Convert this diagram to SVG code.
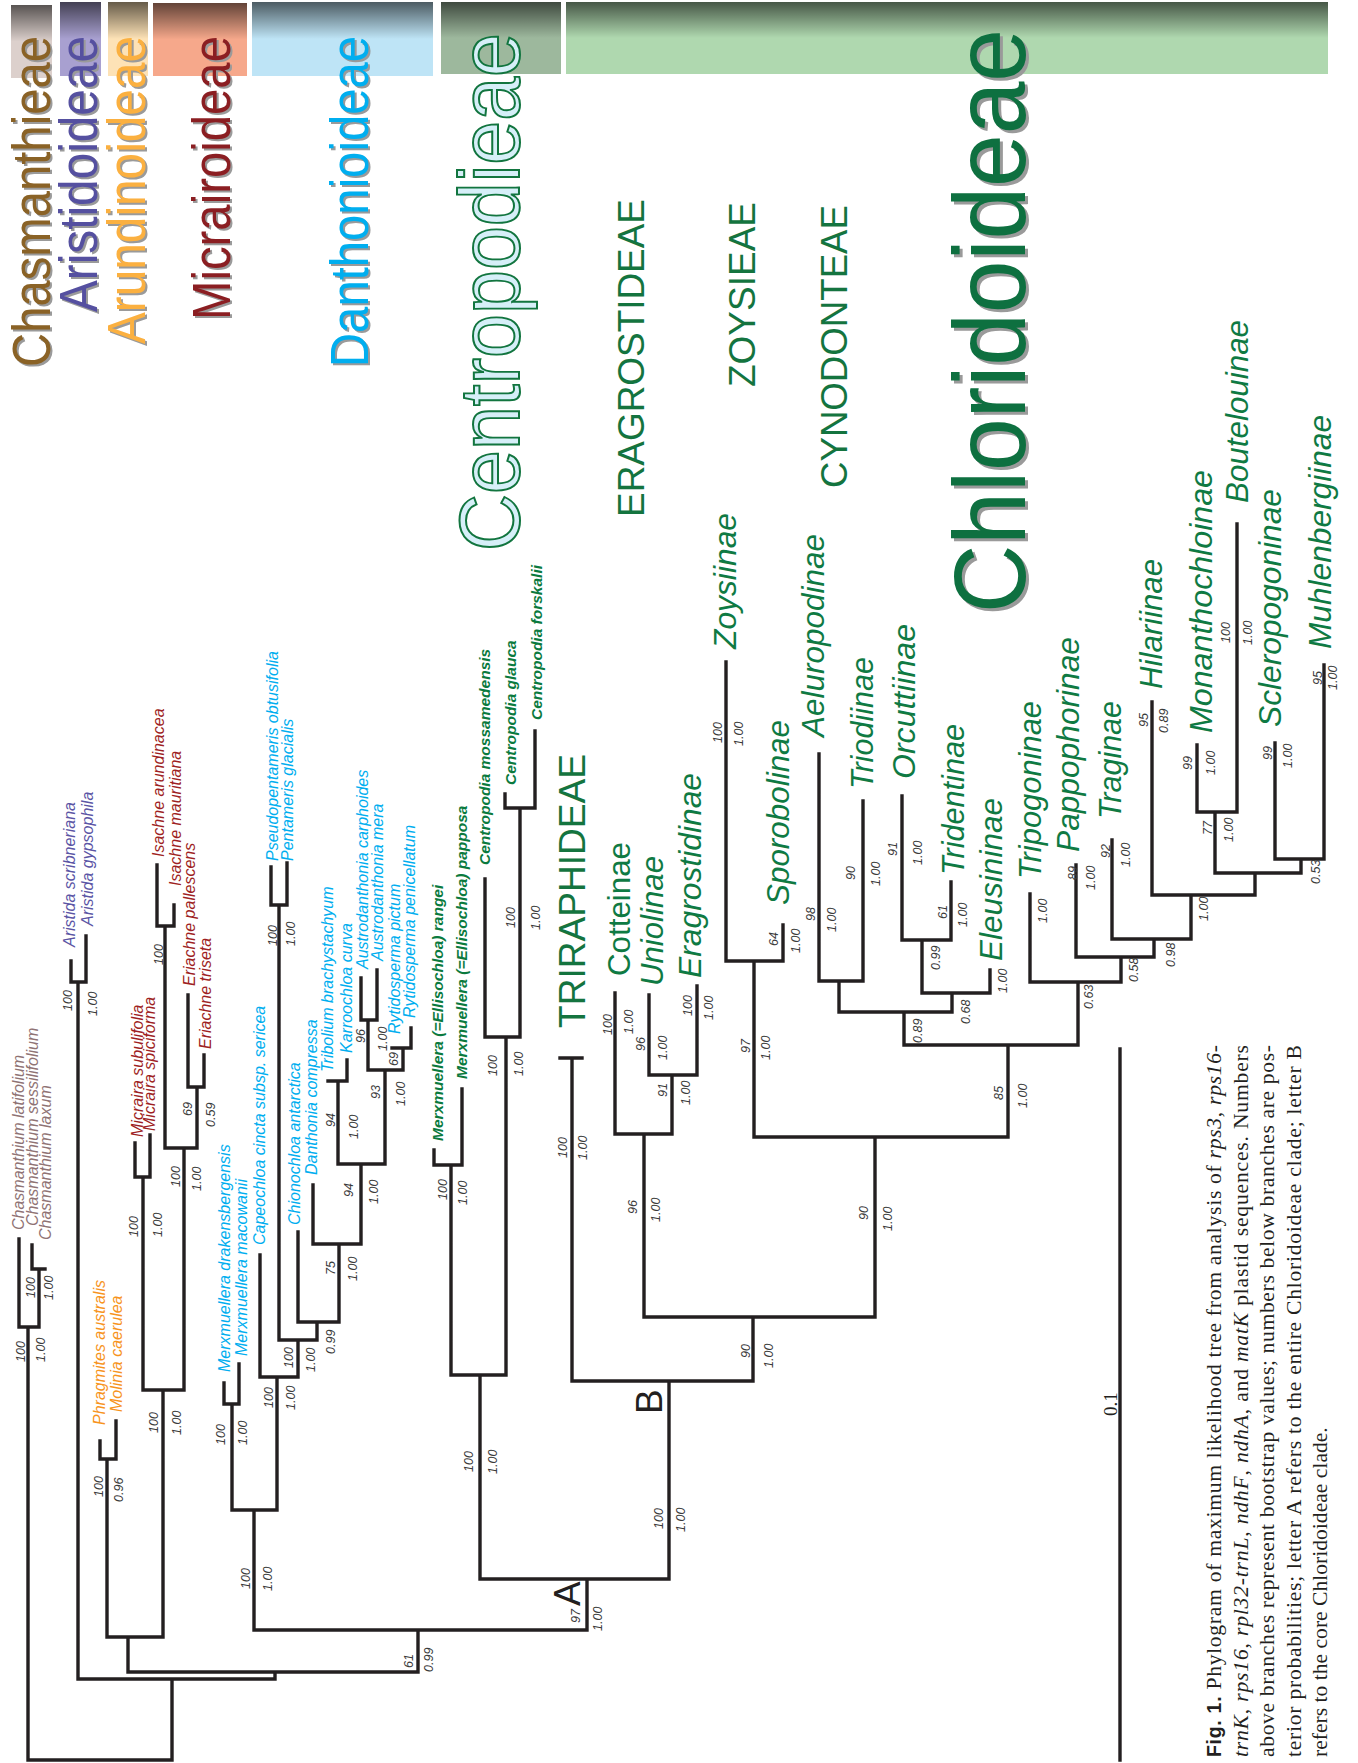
<svg xmlns="http://www.w3.org/2000/svg" width="1358" height="1763" viewBox="0 0 1358 1763">
<defs>
<linearGradient id="shade" x1="0" y1="0" x2="0" y2="1">
<stop offset="0" stop-color="#000" stop-opacity="0.6"/>
<stop offset="0.5" stop-color="#000" stop-opacity="0"/>
</linearGradient>
<style>
.br{stroke:#231f20;stroke-width:3.4;fill:none;stroke-linecap:square}
.n{font-family:"Liberation Sans",Arial,sans-serif;font-style:italic;font-size:12.5px;fill:#3a3a3a}
.sp{font-family:"Liberation Sans",Arial,sans-serif;font-style:italic;font-size:16px}
.cb{font-family:"Liberation Sans",Arial,sans-serif;font-style:italic;font-weight:bold;font-size:15.5px;fill:#0b7a3e}
.st{font-family:"Liberation Sans",Arial,sans-serif;font-style:italic;font-size:32px;fill:#0f7a43}
.tr{font-family:"Liberation Sans",Arial,sans-serif;font-size:37px;fill:#14743f}
.hd{font-family:"Liberation Sans",Arial,sans-serif;font-size:53px}
.sh{fill:#9a9a9a}
.cap{font-family:"Liberation Serif","Times New Roman",serif;font-size:21.6px;fill:#231f20}
.it{font-style:italic}
.chas{fill:#8f7374}.aris{fill:#5b55a5}.arun{fill:#f7941d}.micr{fill:#9e1f24}.dant{fill:#00aeef}
</style>
</defs>

<g id="header-bars">
<rect x="11" y="5" width="41" height="73" fill="#dcd0cc"/><rect x="11" y="5" width="41" height="73" fill="url(#shade)"/>
<rect x="60" y="2" width="41" height="74" fill="#a8a0d0"/><rect x="60" y="2" width="41" height="74" fill="url(#shade)"/>
<rect x="108" y="2" width="40" height="74" fill="#fde2b6"/><rect x="108" y="2" width="40" height="74" fill="url(#shade)"/>
<rect x="153" y="3" width="94" height="73" fill="#f6a88b"/><rect x="153" y="3" width="94" height="73" fill="url(#shade)"/>
<rect x="252" y="2" width="181" height="74" fill="#bee4f6"/><rect x="252" y="2" width="181" height="74" fill="url(#shade)"/>
<rect x="441" y="2" width="120" height="72" fill="#9db89d"/><rect x="441" y="2" width="120" height="72" fill="url(#shade)"/>
<rect x="566" y="2" width="762" height="72" fill="#afd8af"/><rect x="566" y="2" width="762" height="72" fill="url(#shade)"/>
</g>

<g id="header-labels">
<text class="hd sh" transform="translate(52 369) rotate(-90)" textLength="331" lengthAdjust="spacingAndGlyphs">Chasmanthieae</text>
<text class="hd" fill="#8a6226" transform="translate(50 367) rotate(-90)" textLength="331" lengthAdjust="spacingAndGlyphs">Chasmanthieae</text>
<text class="hd sh" transform="translate(99 314) rotate(-90)" textLength="276" lengthAdjust="spacingAndGlyphs">Aristidoideae</text>
<text class="hd" fill="#5550a0" transform="translate(97 312) rotate(-90)" textLength="276" lengthAdjust="spacingAndGlyphs">Aristidoideae</text>
<text class="hd sh" transform="translate(147 346) rotate(-90)" textLength="308" lengthAdjust="spacingAndGlyphs">Arundinoideae</text>
<text class="hd" fill="#fbb040" transform="translate(145 344) rotate(-90)" textLength="308" lengthAdjust="spacingAndGlyphs">Arundinoideae</text>
<text class="hd sh" transform="translate(232 322) rotate(-90)" textLength="284" lengthAdjust="spacingAndGlyphs">Micrairoideae</text>
<text class="hd" fill="#8b1e22" transform="translate(230 320) rotate(-90)" textLength="284" lengthAdjust="spacingAndGlyphs">Micrairoideae</text>
<text class="hd sh" transform="translate(370 369) rotate(-90)" textLength="331" lengthAdjust="spacingAndGlyphs">Danthonioideae</text>
<text class="hd" fill="#00aeef" transform="translate(368 367) rotate(-90)" textLength="331" lengthAdjust="spacingAndGlyphs">Danthonioideae</text>
<text class="hd" style="font-size:86px" fill="#d6eff8" stroke="#12753f" stroke-width="2" transform="translate(519 551) rotate(-90)" textLength="518" lengthAdjust="spacingAndGlyphs">Centropodieae</text>
<text class="hd sh" style="font-size:102px" transform="translate(1028 616) rotate(-90)" textLength="584" lengthAdjust="spacingAndGlyphs">Chloridoideae</text>
<text class="hd" style="font-size:102px" fill="#0e7040" transform="translate(1025 613) rotate(-90)" textLength="584" lengthAdjust="spacingAndGlyphs">Chloridoideae</text>
</g>

<g id="tribe-labels">
<text class="tr" transform="translate(644 517) rotate(-90)" textLength="318" lengthAdjust="spacingAndGlyphs">ERAGROSTIDEAE</text>
<text class="tr" transform="translate(755 387) rotate(-90)" textLength="185" lengthAdjust="spacingAndGlyphs">ZOYSIEAE</text>
<text class="tr" transform="translate(847 488) rotate(-90)" textLength="283" lengthAdjust="spacingAndGlyphs">CYNODONTEAE</text>
<text class="tr" transform="translate(585 1028) rotate(-90)" textLength="274" lengthAdjust="spacingAndGlyphs">TRIRAPHIDEAE</text>
</g>

<g id="connectors">
<path class="br" d="M28 1760H172 M28 1760V1327 M19 1327H39 M19 1327V1239 M39 1327V1269 M32 1269H45 M32 1269V1245
M172 1760V1679 M78 1679H275 M78 1679V982 M71 982H86 M71 982V961 M86 982V936
M275 1679V1672 M128 1672H418 M128 1672V1637 M107 1637H163
M107 1637V1459 M100 1459H116 M100 1459V1441 M116 1459V1421
M163 1637V1390 M143 1390H184 M143 1390V1177 M135 1177H150 M135 1177V1143 M150 1177V1135
M184 1390V1148 M165 1148H197 M165 1148V926 M157 926H174 M157 926V865 M174 926V905
M197 1148V1087 M188 1087H204 M188 1087V995 M204 1087V1055
M418 1672V1630 M254 1630H587
M254 1630V1510 M232 1510H277 M232 1510V1404 M224 1404H239 M224 1404V1383 M239 1404V1364
M277 1510V1377 M260 1377H298 M260 1377V1255 M298 1377V1340 M279 1340H317
M279 1340V905 M271 905H287 M271 905V867 M287 905V863
M317 1340V1322 M298 1322H339 M298 1322V1232 M339 1322V1244 M313 1244H361 M313 1244V1185
M361 1244V1164 M338 1164H385 M338 1164V1081 M328 1081H347 M347 1081V1060
M385 1164V1070 M368 1070H403 M368 1070V1020 M361 1020H377 M361 1020V978 M377 1020V970
M403 1070V1048 M392 1048H411 M411 1048V1028
M587 1630V1579 M480 1579H669
M480 1579V1375 M451 1375H506 M451 1375V1165 M434 1165H462 M434 1165V1150 M462 1165V1089
M506 1375V1037 M485 1037H520 M485 1037V879 M520 1037V808 M505 808H535 M505 808V794 M535 808V731
M669 1579V1381 M572 1381H753 M572 1381V1058 M560 1058H582
M753 1381V1317 M644 1317H875 M644 1317V1134 M615 1134H672 M615 1134V993
M672 1134V1075 M649 1075H697 M649 1075V995 M697 1075V986
M875 1317V1137 M754 1137H1008 M754 1137V961 M726 961H783 M726 961V662 M783 961V925
M1008 1137V1045 M904 1045H1078 M904 1045V1012 M839 1012H952
M839 1012V981 M819 981H863 M819 981V754 M863 981V801
M952 1012V993 M922 993H990 M922 993V940 M902 940H951 M902 940V796 M951 940V882 M990 993V970
M1078 1045V982 M1030 982H1121 M1030 982V894 M1121 982V957 M1076 957H1154 M1076 957V865
M1154 957V939 M1112 939H1191 M1112 939V840 M1191 939V895 M1152 895H1255 M1152 895V702
M1255 895V873 M1215 873H1301 M1215 873V812 M1197 812H1237 M1197 812V745 M1237 812V524
M1301 873V859 M1275 859H1324 M1275 859V743 M1324 859V665"/>
</g>

<g id="scale-bar">
<path class="br" d="M1120 1049V1760"/>
<text class="cap" style="font-size:19px" transform="translate(1117 1416) rotate(-90)">0.1</text>
</g>

<g id="taxa">
<text class="sp chas" transform="translate(24 1230) rotate(-90)">Chasmanthium latifolium</text>
<text class="sp chas" transform="translate(38 1226) rotate(-90)">Chasmanthium sessilifolium</text>
<text class="sp chas" transform="translate(51 1240) rotate(-90)">Chasmanthium laxum</text>
<text class="sp aris" transform="translate(75 947) rotate(-90)">Aristida scribneriana</text>
<text class="sp aris" transform="translate(93 926) rotate(-90)">Aristida gypsophila</text>
<text class="sp arun" transform="translate(105 1425) rotate(-90)">Phragmites australis</text>
<text class="sp arun" transform="translate(122 1412) rotate(-90)">Molinia caerulea</text>
<text class="sp micr" transform="translate(143 1137) rotate(-90)">Micraira subulifolia</text>
<text class="sp micr" transform="translate(155 1131) rotate(-90)">Micraira spiciforma</text>
<text class="sp micr" transform="translate(164 857) rotate(-90)">Isachne arundinacea</text>
<text class="sp micr" transform="translate(181 886) rotate(-90)">Isachne mauritiana</text>
<text class="sp micr" transform="translate(195 986) rotate(-90)">Eriachne pallescens</text>
<text class="sp micr" transform="translate(211 1049) rotate(-90)">Eriachne triseta</text>
<text class="sp dant" transform="translate(230 1372) rotate(-90)">Merxmuellera drakensbergensis</text>
<text class="sp dant" transform="translate(247 1356) rotate(-90)">Merxmuellera macowanii</text>
<text class="sp dant" transform="translate(265 1245) rotate(-90)">Capeochloa cincta subsp. sericea</text>
<text class="sp dant" transform="translate(278 861) rotate(-90)">Pseudopentameris obtusifolia</text>
<text class="sp dant" transform="translate(293 861) rotate(-90)">Pentameris glacialis</text>
<text class="sp dant" transform="translate(300 1225) rotate(-90)">Chionochloa antarctica</text>
<text class="sp dant" transform="translate(317 1175) rotate(-90)">Danthonia compressa</text>
<text class="sp dant" transform="translate(333 1072) rotate(-90)">Tribolium brachystachyum</text>
<text class="sp dant" transform="translate(352 1053) rotate(-90)">Karroochloa curva</text>
<text class="sp dant" transform="translate(368 969) rotate(-90)">Austrodanthonia carphoides</text>
<text class="sp dant" transform="translate(383 961) rotate(-90)">Austrodanthonia mera</text>
<text class="sp dant" transform="translate(400 1034) rotate(-90)">Rytidosperma pictum</text>
<text class="sp dant" transform="translate(415 1018) rotate(-90)">Rytidosperma penicellatum</text>
<text class="cb" transform="translate(443 1141) rotate(-90)">Merxmuellera (=Ellisochloa) rangei</text>
<text class="cb" transform="translate(467 1079) rotate(-90)">Merxmuellera (=Ellisochloa) papposa</text>
<text class="cb" transform="translate(490 865) rotate(-90)">Centropodia mossamedensis</text>
<text class="cb" transform="translate(516 785) rotate(-90)">Centropodia glauca</text>
<text class="cb" transform="translate(542 720) rotate(-90)">Centropodia forskalii</text>
</g>

<g id="subtribes">
<text class="st" style="font-style:normal" transform="translate(630 976) rotate(-90)" textLength="134" lengthAdjust="spacingAndGlyphs">Cotteinae</text>
<text class="st" transform="translate(663 986) rotate(-90)" textLength="130" lengthAdjust="spacingAndGlyphs">Uniolinae</text>
<text class="st" transform="translate(701 978) rotate(-90)" textLength="205" lengthAdjust="spacingAndGlyphs">Eragrostidinae</text>
<text class="st" transform="translate(736 649) rotate(-90)" textLength="136" lengthAdjust="spacingAndGlyphs">Zoysiinae</text>
<text class="st" transform="translate(789 905) rotate(-90)" textLength="185" lengthAdjust="spacingAndGlyphs">Sporobolinae</text>
<text class="st" transform="translate(824 737) rotate(-90)" textLength="203" lengthAdjust="spacingAndGlyphs">Aeluropodinae</text>
<text class="st" transform="translate(873 789) rotate(-90)" textLength="132" lengthAdjust="spacingAndGlyphs">Triodiinae</text>
<text class="st" transform="translate(915 779) rotate(-90)" textLength="155" lengthAdjust="spacingAndGlyphs">Orcuttiinae</text>
<text class="st" transform="translate(964 875) rotate(-90)" textLength="151" lengthAdjust="spacingAndGlyphs">Tridentinae</text>
<text class="st" transform="translate(1002 961) rotate(-90)" textLength="163" lengthAdjust="spacingAndGlyphs">Eleusininae</text>
<text class="st" transform="translate(1041 879) rotate(-90)" textLength="178" lengthAdjust="spacingAndGlyphs">Tripogoninae</text>
<text class="st" transform="translate(1079 852) rotate(-90)" textLength="215" lengthAdjust="spacingAndGlyphs">Pappophorinae</text>
<text class="st" transform="translate(1121 819) rotate(-90)" textLength="118" lengthAdjust="spacingAndGlyphs">Traginae</text>
<text class="st" transform="translate(1162 689) rotate(-90)" textLength="130" lengthAdjust="spacingAndGlyphs">Hilariinae</text>
<text class="st" transform="translate(1212 733) rotate(-90)" textLength="263" lengthAdjust="spacingAndGlyphs">Monanthochloinae</text>
<text class="st" transform="translate(1248 503) rotate(-90)" textLength="183" lengthAdjust="spacingAndGlyphs">Boutelouinae</text>
<text class="st" transform="translate(1281 727) rotate(-90)" textLength="238" lengthAdjust="spacingAndGlyphs">Scleropogoninae</text>
<text class="st" transform="translate(1331 649) rotate(-90)" textLength="234" lengthAdjust="spacingAndGlyphs">Muhlenbergiinae</text>
</g>

<g id="clade-letters">
<text style="font-family:'Liberation Sans',Arial,sans-serif;font-size:37px;fill:#231f20" transform="translate(580 1606) rotate(-90)">A</text>
<text style="font-family:'Liberation Sans',Arial,sans-serif;font-size:37px;fill:#231f20" transform="translate(662 1414) rotate(-90)">B</text>
</g>

<g id="support-values">
<text class="n" transform="translate(25 1362) rotate(-90)">100</text>
<text class="n" transform="translate(45 1362) rotate(-90)">1.00</text>
<text class="n" transform="translate(35 1298) rotate(-90)">100</text>
<text class="n" transform="translate(53 1300) rotate(-90)">1.00</text>
<text class="n" transform="translate(72 1011) rotate(-90)">100</text>
<text class="n" transform="translate(97 1016) rotate(-90)">1.00</text>
<text class="n" transform="translate(103 1497) rotate(-90)">100</text>
<text class="n" transform="translate(123 1502) rotate(-90)">0.96</text>
<text class="n" transform="translate(158 1433) rotate(-90)">100</text>
<text class="n" transform="translate(181 1435) rotate(-90)">1.00</text>
<text class="n" transform="translate(138 1237) rotate(-90)">100</text>
<text class="n" transform="translate(162 1237) rotate(-90)">1.00</text>
<text class="n" transform="translate(180 1187) rotate(-90)">100</text>
<text class="n" transform="translate(201 1191) rotate(-90)">1.00</text>
<text class="n" transform="translate(163 965) rotate(-90)">100</text>
<text class="n" transform="translate(192 1116) rotate(-90)">69</text>
<text class="n" transform="translate(215 1127) rotate(-90)">0.59</text>
<text class="n" transform="translate(413 1668) rotate(-90)">61</text>
<text class="n" transform="translate(433 1672) rotate(-90)">0.99</text>
<text class="n" transform="translate(250 1589) rotate(-90)">100</text>
<text class="n" transform="translate(272 1591) rotate(-90)">1.00</text>
<text class="n" transform="translate(225 1445) rotate(-90)">100</text>
<text class="n" transform="translate(247 1445) rotate(-90)">1.00</text>
<text class="n" transform="translate(273 1408) rotate(-90)">100</text>
<text class="n" transform="translate(295 1410) rotate(-90)">1.00</text>
<text class="n" transform="translate(293 1368) rotate(-90)">100</text>
<text class="n" transform="translate(315 1372) rotate(-90)">1.00</text>
<text class="n" transform="translate(277 946) rotate(-90)">100</text>
<text class="n" transform="translate(295 946) rotate(-90)">1.00</text>
<text class="n" transform="translate(335 1354) rotate(-90)">0.99</text>
<text class="n" transform="translate(335 1275) rotate(-90)">75</text>
<text class="n" transform="translate(357 1281) rotate(-90)">1.00</text>
<text class="n" transform="translate(353 1197) rotate(-90)">94</text>
<text class="n" transform="translate(378 1204) rotate(-90)">1.00</text>
<text class="n" transform="translate(335 1127) rotate(-90)">94</text>
<text class="n" transform="translate(358 1139) rotate(-90)">1.00</text>
<text class="n" transform="translate(380 1099) rotate(-90)">93</text>
<text class="n" transform="translate(405 1106) rotate(-90)">1.00</text>
<text class="n" transform="translate(365 1043) rotate(-90)">96</text>
<text class="n" transform="translate(387 1051) rotate(-90)">1.00</text>
<text class="n" transform="translate(398 1066) rotate(-90)">69</text>
<text class="n" transform="translate(580 1623) rotate(-90)">97</text>
<text class="n" transform="translate(602 1631) rotate(-90)">1.00</text>
<text class="n" transform="translate(473 1472) rotate(-90)">100</text>
<text class="n" transform="translate(497 1474) rotate(-90)">1.00</text>
<text class="n" transform="translate(447 1200) rotate(-90)">100</text>
<text class="n" transform="translate(467 1205) rotate(-90)">1.00</text>
<text class="n" transform="translate(497 1076) rotate(-90)">100</text>
<text class="n" transform="translate(523 1076) rotate(-90)">1.00</text>
<text class="n" transform="translate(515 928) rotate(-90)">100</text>
<text class="n" transform="translate(540 930) rotate(-90)">1.00</text>
<text class="n" transform="translate(663 1529) rotate(-90)">100</text>
<text class="n" transform="translate(685 1532) rotate(-90)">1.00</text>
<text class="n" transform="translate(567 1158) rotate(-90)">100</text>
<text class="n" transform="translate(587 1160) rotate(-90)">1.00</text>
<text class="n" transform="translate(750 1358) rotate(-90)">90</text>
<text class="n" transform="translate(773 1368) rotate(-90)">1.00</text>
<text class="n" transform="translate(637 1214) rotate(-90)">96</text>
<text class="n" transform="translate(660 1222) rotate(-90)">1.00</text>
<text class="n" transform="translate(612 1035) rotate(-90)">100</text>
<text class="n" transform="translate(633 1034) rotate(-90)">1.00</text>
<text class="n" transform="translate(667 1097) rotate(-90)">91</text>
<text class="n" transform="translate(690 1105) rotate(-90)">1.00</text>
<text class="n" transform="translate(645 1051) rotate(-90)">96</text>
<text class="n" transform="translate(667 1060) rotate(-90)">1.00</text>
<text class="n" transform="translate(692 1016) rotate(-90)">100</text>
<text class="n" transform="translate(713 1020) rotate(-90)">1.00</text>
<text class="n" transform="translate(868 1220) rotate(-90)">90</text>
<text class="n" transform="translate(892 1231) rotate(-90)">1.00</text>
<text class="n" transform="translate(750 1053) rotate(-90)">97</text>
<text class="n" transform="translate(770 1060) rotate(-90)">1.00</text>
<text class="n" transform="translate(722 743) rotate(-90)">100</text>
<text class="n" transform="translate(743 746) rotate(-90)">1.00</text>
<text class="n" transform="translate(778 946) rotate(-90)">64</text>
<text class="n" transform="translate(800 953) rotate(-90)">1.00</text>
<text class="n" transform="translate(1003 1100) rotate(-90)">85</text>
<text class="n" transform="translate(1027 1108) rotate(-90)">1.00</text>
<text class="n" transform="translate(922 1043) rotate(-90)">0.89</text>
<text class="n" transform="translate(815 921) rotate(-90)">98</text>
<text class="n" transform="translate(836 932) rotate(-90)">1.00</text>
<text class="n" transform="translate(855 880) rotate(-90)">90</text>
<text class="n" transform="translate(880 886) rotate(-90)">1.00</text>
<text class="n" transform="translate(970 1024) rotate(-90)">0.68</text>
<text class="n" transform="translate(940 970) rotate(-90)">0.99</text>
<text class="n" transform="translate(897 856) rotate(-90)">91</text>
<text class="n" transform="translate(922 865) rotate(-90)">1.00</text>
<text class="n" transform="translate(947 919) rotate(-90)">61</text>
<text class="n" transform="translate(967 927) rotate(-90)">1.00</text>
<text class="n" transform="translate(1007 993) rotate(-90)">1.00</text>
<text class="n" transform="translate(1093 1009) rotate(-90)">0.63</text>
<text class="n" transform="translate(1047 923) rotate(-90)">1.00</text>
<text class="n" transform="translate(1138 982) rotate(-90)">0.58</text>
<text class="n" transform="translate(1077 880) rotate(-90)">89</text>
<text class="n" transform="translate(1095 890) rotate(-90)">1.00</text>
<text class="n" transform="translate(1175 967) rotate(-90)">0.98</text>
<text class="n" transform="translate(1110 858) rotate(-90)">92</text>
<text class="n" transform="translate(1130 867) rotate(-90)">1.00</text>
<text class="n" transform="translate(1208 921) rotate(-90)">1.00</text>
<text class="n" transform="translate(1148 727) rotate(-90)">95</text>
<text class="n" transform="translate(1168 733) rotate(-90)">0.89</text>
<text class="n" transform="translate(1212 835) rotate(-90)">77</text>
<text class="n" transform="translate(1233 842) rotate(-90)">1.00</text>
<text class="n" transform="translate(1192 770) rotate(-90)">99</text>
<text class="n" transform="translate(1215 775) rotate(-90)">1.00</text>
<text class="n" transform="translate(1230 643) rotate(-90)">100</text>
<text class="n" transform="translate(1252 645) rotate(-90)">1.00</text>
<text class="n" transform="translate(1320 884) rotate(-90)">0.53</text>
<text class="n" transform="translate(1272 760) rotate(-90)">99</text>
<text class="n" transform="translate(1292 768) rotate(-90)">1.00</text>
<text class="n" transform="translate(1322 685) rotate(-90)">95</text>
<text class="n" transform="translate(1337 690) rotate(-90)">1.00</text>
</g>

<g id="caption">
<text class="cap" transform="translate(1221 1757) rotate(-90)" textLength="712" lengthAdjust="spacing"><tspan style="font-family:'Liberation Sans',Arial,sans-serif;font-weight:bold;font-size:19.5px">Fig. 1.</tspan> Phylogram of maximum likelihood tree from analysis of <tspan class="it">rps3</tspan>, <tspan class="it">rps16-</tspan></text>
<text class="cap" transform="translate(1248 1757) rotate(-90)" textLength="712" lengthAdjust="spacing"><tspan class="it">trnK</tspan>, <tspan class="it">rps16</tspan>, <tspan class="it">rpl32-trnL</tspan>, <tspan class="it">ndhF</tspan>, <tspan class="it">ndhA</tspan>, and <tspan class="it">matK</tspan> plastid sequences. Numbers</text>
<text class="cap" transform="translate(1274 1757) rotate(-90)" textLength="712" lengthAdjust="spacing">above branches represent bootstrap values; numbers below branches are pos-</text>
<text class="cap" transform="translate(1301 1757) rotate(-90)" textLength="712" lengthAdjust="spacing">terior probabilities; letter A refers to the entire Chloridoideae clade; letter B</text>
<text class="cap" transform="translate(1327 1757) rotate(-90)">refers to the core Chloridoideae clade.</text>
</g>
</svg>
